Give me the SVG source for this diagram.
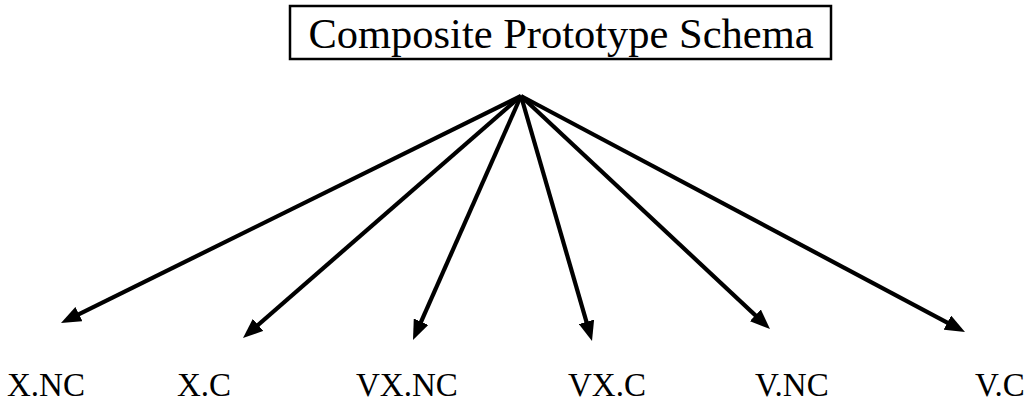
<svg xmlns="http://www.w3.org/2000/svg" width="1031" height="403" viewBox="0 0 1031 403">
  <style>
    .title { font-family: "Liberation Serif", "Times New Roman", serif; font-size: 42.5px; fill: #000; }
    .label { font-family: "Liberation Serif", "Times New Roman", serif; font-size: 33px; fill: #000; }
    .frame { fill: #fff; stroke: #000; stroke-width: 2.5; }
    .edge { stroke: #000; stroke-width: 4.2; fill: none; marker-end: url(#head); }
  </style>
  <defs>
    <marker id="head" markerUnits="userSpaceOnUse" viewBox="0 0 20 16" markerWidth="20" markerHeight="16" refX="10" refY="8" orient="auto">
      <path d="M0,0 L20,8 L0,16 z" fill="#000"/>
    </marker>
  </defs>
  <rect width="1031" height="403" fill="#fff"/>

  <g id="root">
    <rect class="frame" x="290" y="6" width="541" height="53"/>
    <text class="title" x="561" y="48" text-anchor="middle">Composite Prototype Schema</text>
  </g>

  <g id="connectors">
    <line class="edge" x1="521" y1="96" x2="69.97" y2="318.57"/>
    <line class="edge" x1="521" y1="96" x2="250.54" y2="331.43"/>
    <line class="edge" x1="521" y1="96" x2="417.05" y2="330.85"/>
    <line class="edge" x1="521" y1="96" x2="589.22" y2="331.40"/>
    <line class="edge" x1="521" y1="96" x2="762.70" y2="322.17"/>
    <line class="edge" x1="521" y1="96" x2="956.17" y2="327.31"/>
  </g>

  <g id="x-nc"><text class="label" x="7" y="396">X.NC</text></g>
  <g id="x-c"><text class="label" x="177" y="396">X.C</text></g>
  <g id="vx-nc"><text class="label" x="356" y="396">VX.NC</text></g>
  <g id="vx-c"><text class="label" x="568" y="396">VX.C</text></g>
  <g id="v-nc"><text class="label" x="755" y="396">V.NC</text></g>
  <g id="v-c"><text class="label" x="975" y="396">V.C</text></g>
</svg>
